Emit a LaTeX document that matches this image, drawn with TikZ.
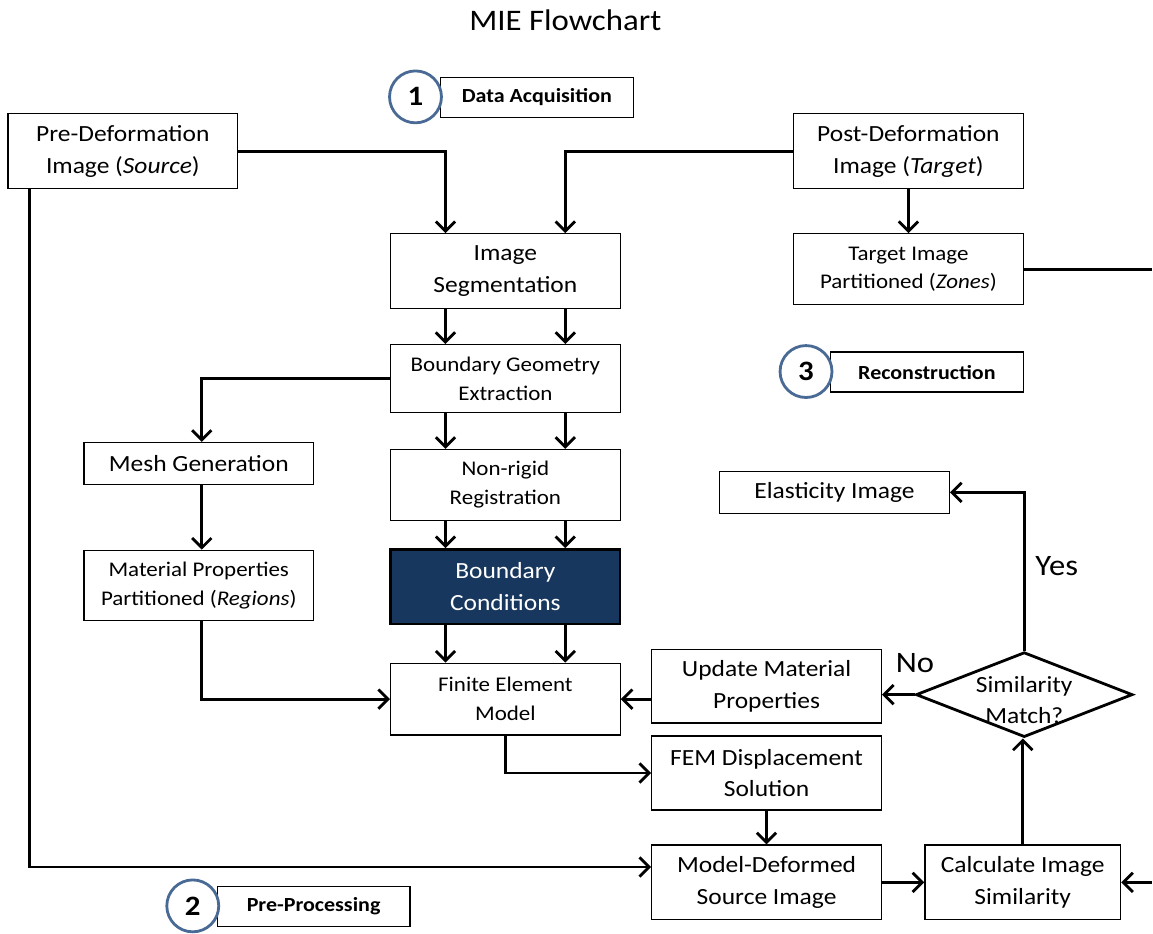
\documentclass[tikz,border=0pt]{standalone}
\usepackage{fontspec}
\setmainfont{Carlito}[FakeStretch=1.1]
\usetikzlibrary{arrows.meta,calc,shapes.geometric}
\definecolor{bcnavy}{RGB}{23,55,94}
\definecolor{ringblue}{RGB}{74,106,150}
\begin{document}
\begin{tikzpicture}[x=0.02cm,y=-0.02cm,
  box/.style={draw,line width=0.7pt,align=center,inner sep=0pt,minimum width=4.6cm,font=\fontsize{13.2}{18}\selectfont},
  smallbox/.style={box,font=\fontsize{11.9}{16.4}\selectfont},
  flow/.style={-{Straight Barb[length=5.5pt,width=11pt]},line width=1.6pt},
  tag/.style={draw,line width=0.7pt,minimum width=3.86cm,minimum height=0.8cm,inner sep=0pt,font=\bfseries\fontsize{11.4}{13}\selectfont},
  ring/.style={circle,draw=ringblue,line width=1.6pt,fill=white,minimum size=1.04cm,inner sep=0pt,font=\bfseries\fontsize{16}{18}\selectfont}]
  \path[fill=white] (0,0) rectangle (1153,932);
  \node[font=\fontsize{17}{20}\selectfont] (title) at (566,20) {MIE Flowchart};
  \node[box,minimum height=1.5cm] (pre) at (123,151.5) {Pre-Deformation\\Image (\textit{Source})};
  \node[box,minimum height=1.5cm] (seg) at (506,271.5) {Image\\Segmentation};
  \node[box,minimum height=1.5cm] (post) at (909.5,151.5) {Post-Deformation\\Image (\textit{Target})};
  \node[smallbox,minimum height=1.42cm] (zones) at (909.5,269.5) {Target Image\\Partitioned (\textit{Zones})};
  \node[smallbox,minimum height=1.36cm] (bge) at (506,379) {Boundary Geometry\\Extraction};
  \node[box,minimum height=0.84cm] (mesh) at (199,464) {Mesh Generation};
  \node[smallbox,minimum height=1.42cm] (reg) at (506,485.5) {Non-rigid\\Registration};
  \node[smallbox,minimum height=1.4cm] (mat) at (199,586) {Material Properties\\Partitioned (\textit{Regions})};
  \node[box,minimum height=1.5cm,fill=bcnavy,text=white,line width=1.4pt] (bc) at (506,587.5) {Boundary\\Conditions};
  \node[smallbox,minimum height=1.44cm] (fem) at (506,700) {Finite Element\\Model};
  \node[box,minimum height=1.48cm] (upd) at (767.5,687) {Update Material\\Properties};
  \node[box,minimum height=1.48cm] (disp) at (767.5,774) {FEM Displacement\\Solution};
  \node[box,minimum height=1.5cm] (mds) at (767.5,883.5) {Model-Deformed\\Source Image};
  \node[box,minimum height=1.5cm,minimum width=3.92cm] (sim) at (1024,883.5) {Calculate Image\\Similarity};
  \node[diamond,draw,line width=1.6pt,minimum width=4.34cm,minimum height=1.7cm,inner sep=0pt,
    label={[align=center,yshift=-0.11cm,font=\fontsize{13.2}{18}\selectfont]center:Similarity\\Match?}] (match) at (1025.5,695.5) {};
  \node[box,minimum height=0.84cm] (elast) at (835.5,493) {Elasticity Image};
  \node[font=\fontsize{16.9}{20}\selectfont] (yes) at (1058,567) {Yes};
  \node[font=\fontsize{16.9}{20}\selectfont] (no) at (916,664) {No};
  \node[tag] (acq) at (537.5,97.5) {Data Acquisition};
  \node[ring] (one) at (416,97) {1};
  \node[tag] (recon) at (928,372.5) {Reconstruction};
  \node[ring] (three) at (807,372) {3};
  \node[tag] (proc) at (314,907.5) {Pre-Processing};
  \node[ring] (two) at (193,907) {2};
  \coordinate (outT) at (1153,269.5);
  \coordinate (inS) at (1153,883.5);
  \draw[flow] (pre.east) -| ($(seg.north)+(-60,0)$);
  \draw[flow] (post.west) -| ($(seg.north)+(60,0)$);
  \draw[flow] (post) -- (zones);
  \draw[line width=1.6pt] (zones.east) -- (outT);
  \draw[flow] (inS) -- (sim.east);
  \draw[flow] ($(pre.south west)+(22,0)$) |- ($(mds.west)+(0,-15.5)$);
  \foreach \a/\b in {seg/bge,bge/reg,reg/bc,bc/fem}
    \foreach \dx in {-60,60}
      \draw[flow] ($(\a.south)+(\dx,0)$) -- ($(\b.north)+(\dx,0)$);
  \draw[flow] (bge.west) -| ($(mesh.north)+(3,0)$);
  \draw[flow] ($(mesh.south)+(3,0)$) -- ($(mat.north)+(3,0)$);
  \draw[flow] ($(mat.south)+(3,0)$) |- (fem.west);
  \draw[flow] (fem.south) |- (disp.west);
  \draw[flow] (disp) -- (mds);
  \draw[flow] (mds) -- (sim);
  \draw[flow] (sim.north) -- (sim.north |- match.south);
  \draw[flow] (match.west) -- (match.west -| upd.east);
  \draw[flow] (fem.east -| upd.west) -- (fem.east);
  \draw[flow] (match.north) |- (elast.east);
\end{tikzpicture}
\end{document}
